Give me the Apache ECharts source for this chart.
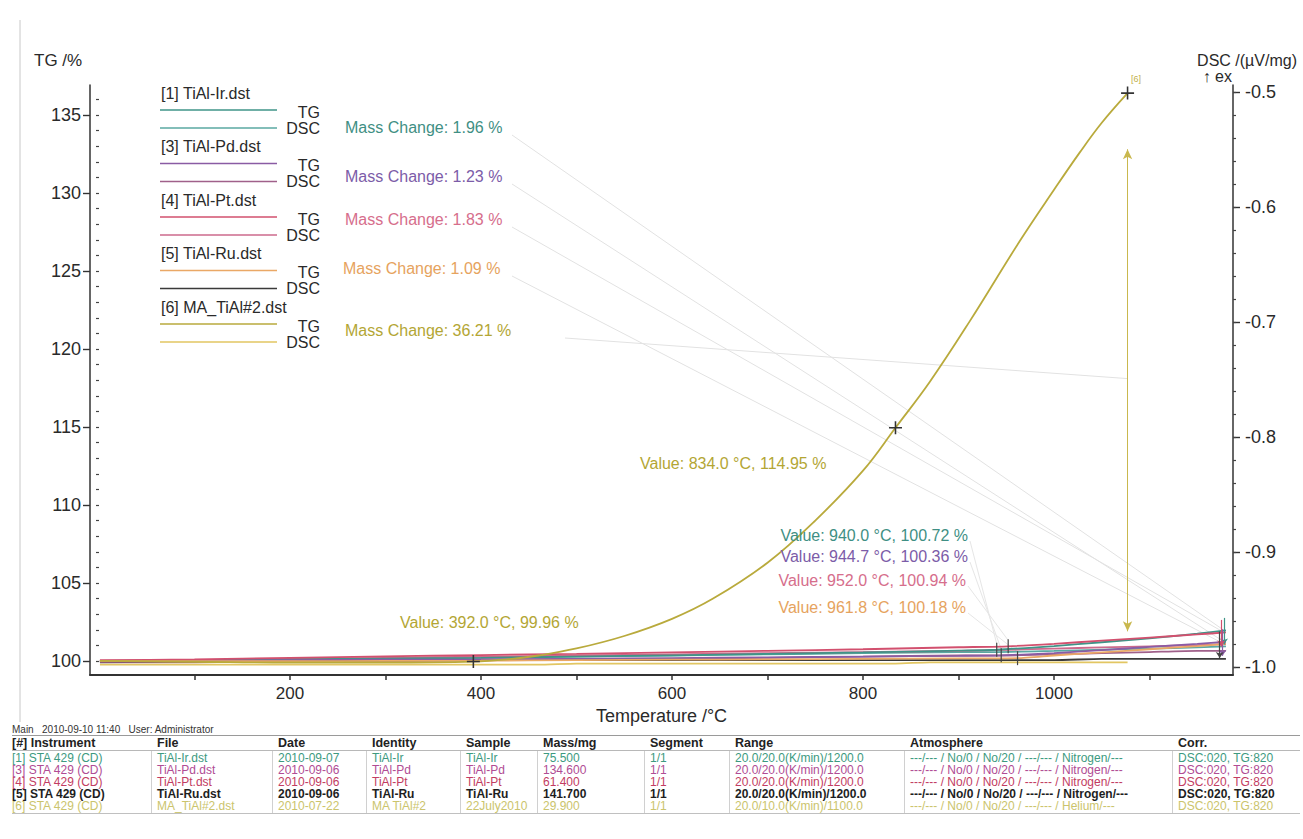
<!DOCTYPE html>
<html>
<head>
<meta charset="utf-8">
<script src="https://cdn.jsdelivr.net/npm/echarts@6/dist/echarts.min.js"></script>
<style>
html,body{margin:0;padding:0;background:#fff;}
#chart{position:absolute;left:0;top:0;width:1303px;height:839px;}
#tbl{position:absolute;left:0;top:0;width:1303px;height:839px;pointer-events:none;font-family:"Liberation Sans",Arial,sans-serif;}
.c{position:absolute;white-space:pre;font-size:12px;line-height:12px;}
.h{font-weight:bold;color:#222;font-size:12.5px;line-height:13px;}
.hl{position:absolute;height:0;border-top:1px solid #9a9a9a;}
.vl{position:absolute;width:0;border-left:1px solid #d0d0d0;}
</style>
</head>
<body>
<div id="chart"></div>
<div id="tbl"></div>
<script>
// ---------------- DATA ----------------
const tempIr = [1, 100, 200, 300, 400, 500, 600, 700, 800, 900, 940, 1000, 1050, 1100, 1150, 1180];
const tgIr   = [100.0, 100.05, 100.1, 100.15, 100.2, 100.28, 100.36, 100.45, 100.55, 100.66, 100.72, 100.95, 101.2, 101.45, 101.75, 101.96];
const dscIr  = [-0.996, -0.995, -0.994, -0.993, -0.992, -0.991, -0.990, -0.989, -0.988, -0.987, -0.987, -0.986, -0.985, -0.984, -0.983, -0.982];

const tempPd = [1, 100, 200, 300, 400, 500, 600, 700, 800, 900, 944.7, 1000, 1050, 1100, 1150, 1180];
const tgPd   = [100.0, 100.02, 100.05, 100.08, 100.1, 100.14, 100.18, 100.23, 100.28, 100.33, 100.36, 100.5, 100.7, 100.9, 101.1, 101.23];
const dscPd  = [-0.996, -0.996, -0.995, -0.995, -0.994, -0.993, -0.993, -0.992, -0.991, -0.990, -0.990, -0.989, -0.988, -0.987, -0.986, -0.986];

const tempPt = [1, 100, 200, 300, 400, 500, 600, 700, 800, 900, 952, 1000, 1050, 1100, 1150, 1180];
const tgPt   = [100.05, 100.1, 100.2, 100.3, 100.38, 100.46, 100.55, 100.65, 100.75, 100.88, 100.94, 101.1, 101.3, 101.5, 101.7, 101.83];
const dscPt  = [-0.995, -0.994, -0.993, -0.992, -0.991, -0.990, -0.989, -0.988, -0.987, -0.986, -0.985, -0.984, -0.983, -0.982, -0.981, -0.980];

const tempRu = [1, 100, 200, 300, 400, 500, 600, 700, 800, 900, 961.8, 1000, 1050, 1100, 1150, 1180];
const tgRu   = [100.0, 99.98, 99.98, 100.0, 100.02, 100.05, 100.08, 100.1, 100.13, 100.16, 100.18, 100.35, 100.55, 100.75, 100.95, 101.09];
const dscRu  = [-0.995, -0.995, -0.994, -0.994, -0.994, -0.994, -0.994, -0.994, -0.994, -0.994, -0.994, -0.994, -0.993, -0.993, -0.993, -0.993];

const tempMa = [1, 100, 200, 300, 392, 430, 460, 500, 550, 600, 643, 700, 750, 800, 834, 870, 912, 964, 1000, 1027, 1050, 1077];
const tgMa   = [100.0, 99.95, 99.9, 99.9, 99.96, 100.12, 100.35, 100.8, 101.6, 102.7, 104.0, 106.3, 109.0, 112.2, 114.95, 117.9, 121.8, 126.9, 130.2, 132.6, 134.5, 136.4];
const dscMa  = [-0.998, -0.998, -0.998, -0.998, -0.998, -0.998, -0.998, -0.997, -0.997, -0.997, -0.997, -0.997, -0.997, -0.997, -0.997, -0.996, -0.996, -0.996, -0.996, -0.996, -0.996, -0.996];

const tgTicks  = [100, 105, 110, 115, 120, 125, 130, 135];
const dscTicks = [-1.0, -0.9, -0.8, -0.7, -0.6, -0.5];
const tempTicks = [200, 400, 600, 800, 1000];
const tempMinorTicks = [100, 200, 300, 400, 500, 600, 700, 800, 900, 1000, 1100];

const legendFiles = ['[1] TiAl-Ir.dst', '[3] TiAl-Pd.dst', '[4] TiAl-Pt.dst', '[5] TiAl-Ru.dst', '[6] MA_TiAl#2.dst'];
const massChanges = [1.96, 1.23, 1.83, 1.09, 36.21];
const markValues = [
  {t: 834.0, v: 114.95}, {t: 392.0, v: 99.96},
  {t: 940.0, v: 100.72}, {t: 944.7, v: 100.36}, {t: 952.0, v: 100.94}, {t: 961.8, v: 100.18}
];

const tableCaption = 'Main   2010-09-10 11:40   User: Administrator';
const tableHeader = ['[#] Instrument', 'File', 'Date', 'Identity', 'Sample', 'Mass/mg', 'Segment', 'Range', 'Atmosphere', 'Corr.'];
const tableRows = [
  ['[1] STA 429 (CD)', 'TiAl-Ir.dst', '2010-09-07', 'TiAl-Ir', 'TiAl-Ir', '75.500', '1/1', '20.0/20.0(K/min)/1200.0', '---/--- / No/0 / No/20 / ---/--- / Nitrogen/---', 'DSC:020, TG:820'],
  ['[3] STA 429 (CD)', 'TiAl-Pd.dst', '2010-09-06', 'TiAl-Pd', 'TiAl-Pd', '134.600', '1/1', '20.0/20.0(K/min)/1200.0', '---/--- / No/0 / No/20 / ---/--- / Nitrogen/---', 'DSC:020, TG:820'],
  ['[4] STA 429 (CD)', 'TiAl-Pt.dst', '2010-09-06', 'TiAl-Pt', 'TiAl-Pt', '61.400', '1/1', '20.0/20.0(K/min)/1200.0', '---/--- / No/0 / No/20 / ---/--- / Nitrogen/---', 'DSC:020, TG:820'],
  ['[5] STA 429 (CD)', 'TiAl-Ru.dst', '2010-09-06', 'TiAl-Ru', 'TiAl-Ru', '141.700', '1/1', '20.0/20.0(K/min)/1200.0', '---/--- / No/0 / No/20 / ---/--- / Nitrogen/---', 'DSC:020, TG:820'],
  ['[6] STA 429 (CD)', 'MA_TiAl#2.dst', '2010-07-22', 'MA TiAl#2', '22July2010', '29.900', '1/1', '20.0/10.0(K/min)/1100.0', '---/--- / No/0 / No/20 / ---/--- / Helium/---', 'DSC:020, TG:820']
];

// ---------------- STYLE ----------------
const FONT = '"Liberation Sans", Arial, sans-serif';
const tgColors   = ['#3f9488', '#8a5ca4', '#d2506e', '#eaa866', '#b9aa3c'];
const dscColors  = ['#5aa8a2', '#a0608a', '#cc6a8c', '#3a3a3a', '#e2c662'];
const textColors = ['#3f8f84', '#7c5ca8', '#d66e8c', '#e6a35e', '#b3a634'];
const rowColors  = ['#3d9a80', '#b04c94', '#c23c62', '#1e1e1e', '#cbc46c'];

const zip = (a, b) => a.map((x, i) => [x, b[i]]);
const plus = 'path://M4.4,0H5.6V4.4H10V5.6H5.6V10H4.4V5.6H0V4.4H4.4Z';

const chart = echarts.init(document.getElementById('chart'), null, {renderer: 'svg'});

const tempSets = [tempIr, tempPd, tempPt, tempRu, tempMa];
const tgSets   = [tgIr, tgPd, tgPt, tgRu, tgMa];
const dscSets  = [dscIr, dscPd, dscPt, dscRu, dscMa];
function tgSetsEnd(i) { const a = tgSets[i]; return a[a.length - 1]; }

const series = [];
dscSets.forEach((d, i) => {
  series.push({
    type: 'line', yAxisIndex: 1, data: zip(tempSets[i], d), showSymbol: false, smooth: 0.2,
    lineStyle: {color: dscColors[i], width: 1.8}, z: 2, silent: true
  });
});
tgSets.forEach((d, i) => {
  series.push({
    type: 'line', yAxisIndex: 0, data: zip(tempSets[i], d), showSymbol: false, smooth: i === 4 ? 0.4 : 0.2,
    lineStyle: {color: tgColors[i], width: 1.8}, z: 3, silent: true
  });
});

const tgSeriesStart = 5;
series[tgSeriesStart + 4].markPoint = {
  symbol: plus, symbolSize: 13, silent: true, animation: false,
  itemStyle: {color: '#333'},
  label: {show: false},
  data: [
    {coord: [markValues[1].t, markValues[1].v]},
    {coord: [markValues[0].t, markValues[0].v]},
    {coord: [tempMa[tempMa.length - 1], tgMa[tgMa.length - 1]],
     label: {show: true, formatter: '[6]', position: [10, -12], fontSize: 9, color: '#c2b04a', fontFamily: FONT}}
  ]
};
series[tgSeriesStart + 4].markLine = {
  symbol: ['arrow', 'arrow'], symbolSize: [7, 10], silent: true, animation: false,
  lineStyle: {color: '#c9b84e', width: 1, type: 'solid'}, label: {show: false},
  data: [[{coord: [tempMa[tempMa.length - 1], 132.8]}, {coord: [tempMa[tempMa.length - 1], 101.9]}]]
};
[0, 1, 2, 3].forEach((i) => {
  const mv = markValues[i + 2];
  series[tgSeriesStart + i].markPoint = {
    symbol: 'path://M0,0H1V10H0Z', symbolSize: [1.2, 14], silent: true, animation: false,
    itemStyle: {color: '#444'}, label: {show: false},
    data: [{coord: [mv.t, mv.v]}]
  };
  series[tgSeriesStart + i].markLine = {
    symbol: ['none', 'arrow'], symbolSize: 6, silent: true, animation: false,
    lineStyle: {color: i === 3 ? '#444' : tgColors[i], width: 1.2, type: 'solid'}, label: {show: false},
    data: [[{coord: [1178 - i * 1.5, tgSetsEnd(i) + 0.8]}, {coord: [1178 - i * 1.5, tgSetsEnd(i) - 0.9]}]]
  };
});

const option = {
  animation: false,
  backgroundColor: '#fff',
  grid: {left: 90, right: 70, top: 85, bottom: 164, containLabel: false},
  xAxis: [{
    type: 'value', min: -9.4, max: 1187.4,
    axisLine: {show: true, onZero: false, lineStyle: {color: '#333', width: 2}},
    axisTick: {show: true, customValues: tempMinorTicks, length: 5, inside: false, lineStyle: {color: '#333', width: 1.5}},
    axisLabel: {customValues: tempTicks, fontSize: 17, color: '#2a2a2a', margin: 10, fontFamily: FONT,
      formatter: (v) => String(v)},
    splitLine: {show: false},
    name: 'Temperature /°C', nameLocation: 'middle', nameGap: 27,
    nameTextStyle: {fontSize: 18, color: '#2a2a2a', fontFamily: FONT}
  }],
  yAxis: [{
    type: 'value', position: 'left', min: 99.1, max: 136.92,
    axisLine: {show: true, onZero: false, lineStyle: {color: '#333', width: 1.5}},
    axisTick: {show: true, customValues: tgTicks, length: 7, inside: false, lineStyle: {color: '#333', width: 1.4}},
    axisLabel: {customValues: tgTicks, fontSize: 18, color: '#2a2a2a', margin: 9, fontFamily: FONT},
    splitLine: {show: false}
  }, {
    type: 'value', position: 'right', min: -1.00696, max: -0.49391,
    axisLine: {show: true, onZero: false, lineStyle: {color: '#333', width: 1.5}},
    axisTick: {show: true, customValues: dscTicks, length: 7, inside: false, lineStyle: {color: '#333', width: 1.4}},
    axisLabel: {customValues: dscTicks, fontSize: 18, color: '#2a2a2a', margin: 12, fontFamily: FONT,
      formatter: (v) => v.toFixed(1)},
    splitLine: {show: false}
  }, {
    type: 'value', position: 'left', min: 99.1, max: 136.92,
    axisLine: {show: false}, axisLabel: {show: false}, splitLine: {show: false},
    axisTick: {show: true, customValues: Array.from({length: 37}, (_, k) => 100 + k), length: 3, inside: false, lineStyle: {color: '#444', width: 1.2}}
  }, {
    type: 'value', position: 'right', min: -1.00696, max: -0.49391,
    axisLine: {show: false}, axisLabel: {show: false}, splitLine: {show: false},
    axisTick: {show: true, customValues: Array.from({length: 26}, (_, k) => -1.0 + k * 0.02), length: 3, inside: false, lineStyle: {color: '#444', width: 1.2}}
  }],
  series: series
};
chart.setOption(option);

// ---------------- ANNOTATIONS ----------------
const px = (t, v, yi) => chart.convertToPixel({xAxisIndex: 0, yAxisIndex: yi || 0}, [t, v]);
const g = [];
const txt = (text, x, y, color, size, align, weight) => ({
  type: 'text', x: x, y: y, silent: true, z: 50,
  style: {text: text, fill: color, font: (weight || 'normal') + ' ' + size + 'px ' + FONT,
    align: align || 'left', verticalAlign: 'middle', textAlign: align || 'left', textVerticalAlign: 'middle'}
});
const line = (x1, y1, x2, y2, color, w) => ({
  type: 'line', silent: true, z: 1, shape: {x1: x1, y1: y1, x2: x2, y2: y2},
  style: {stroke: color, lineWidth: w || 1}
});

// axis titles
g.push(txt('TG /%', 34, 60, '#2a2a2a', 17, 'left'));
g.push(txt('DSC /(µV/mg)', 1297, 60, '#2a2a2a', 16, 'right'));
g.push(txt('↑ ex', 1232, 76, '#2a2a2a', 16, 'right'));

// legend block
legendFiles.forEach((f, i) => {
  const y0 = 93 + i * 53.5;
  g.push(txt(f, 161, y0, '#2a2a2a', 16, 'left'));
  g.push(line(160, y0 + 17, 277, y0 + 17, tgColors[i], 1.5));
  g.push(txt('TG', 320, y0 + 19, '#2a2a2a', 16, 'right'));
  g.push(line(160, y0 + 35, 277, y0 + 35, dscColors[i], 1.5));
  g.push(txt('DSC', 320, y0 + 35, '#2a2a2a', 16, 'right'));
});

// mass change labels + faint leader lines
const mcY = [127, 176, 219, 268, 330];
massChanges.forEach((m, i) => {
  g.push(txt('Mass Change: ' + m.toFixed(2) + ' %', i === 3 ? 343 : 345, mcY[i], textColors[i], 16, 'left'));
  let end;
  if (i < 4) end = px(1178, tgSetsEnd(i));
  else end = px(tempMa[tempMa.length - 1], 118.1);
  const startX = i === 4 ? 565 : 512;
  g.push(line(startX, mcY[i] + 8, end[0], end[1], '#e2e2e2', 1));
});

// value labels
const valY = [463, 622, 535, 556, 580, 607];
const valX = [640, 400, 968, 968, 966, 966];
const valAlign = ['left', 'left', 'right', 'right', 'right', 'right'];
const valColor = [textColors[4], textColors[4], textColors[0], textColors[1], textColors[2], textColors[3]];
markValues.forEach((mv, i) => {
  const s = 'Value: ' + mv.t.toFixed(1) + ' °C, ' + mv.v.toFixed(2) + ' %';
  g.push(txt(s, valX[i], valY[i], valColor[i], 16, valAlign[i]));
  if (i >= 2) {
    const p = px(mv.t, mv.v);
    g.push(line(valX[i] + 2, valY[i] + 6, p[0], p[1] - 6, '#e6e6e6', 1));
  }
});

// page frame line (scan border)
g.push(line(20, 20, 20, 722, '#c8c8c8', 1));

chart.setOption({graphic: {elements: g}});

// ---------------- TABLE ----------------
const tbl = document.getElementById('tbl');
const colX = [12, 157, 278, 372, 466, 543, 650, 735, 910, 1178];
function addDiv(cls, css, text) {
  const d = document.createElement('div');
  d.className = cls;
  Object.assign(d.style, css);
  if (text !== undefined) d.textContent = text;
  tbl.appendChild(d);
  return d;
}
addDiv('c', {left: '12px', top: '725px', fontSize: '10px', lineHeight: '10px', color: '#333'}, tableCaption);
addDiv('hl', {left: '12px', top: '735px', width: '1288px'});
tableHeader.forEach((h, j) => addDiv('c h', {left: colX[j] + 'px', top: '737px'}, h));
addDiv('hl', {left: '12px', top: '750px', width: '1288px', borderTopColor: '#b8b8b8'});
tableRows.forEach((r, i) => {
  r.forEach((c, j) => addDiv('c', {left: colX[j] + 'px', top: (752 + i * 12) + 'px', color: rowColors[i],
    fontWeight: i === 3 ? 'bold' : 'normal'}, c));
});
addDiv('hl', {left: '12px', top: '813px', width: '1288px', borderTopColor: '#c0c0c0'});
colX.slice(1).forEach((x) => addDiv('vl', {left: (x - 6) + 'px', top: '751px', height: '62px'}));
</script>
</body>
</html>
